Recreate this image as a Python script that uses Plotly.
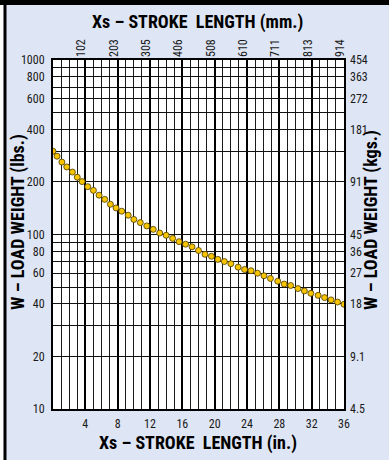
import plotly.graph_objects as go

# curve (stroke in inches, load in lbs)
stroke_in = [0, 0.5, 1.1, 1.7, 2.4, 3.0, 3.6, 4.3, 5.0, 5.7, 6.4, 7.1, 7.8, 8.5, 9.3,
             10.0, 10.8, 11.6, 12.4, 13.2, 14.0, 14.8, 15.6, 16.4, 17.2, 18.0, 18.8,
             19.6, 20.4, 21.2, 22.0, 22.9, 23.7, 24.5, 25.3, 26.1, 26.9, 27.8, 28.6,
             29.4, 30.3, 31.1, 31.9, 32.8, 33.6, 34.4, 35.2, 36.0]
load_lbs = [300, 281, 260, 244, 228, 213, 201, 188, 179, 168, 159, 149, 142, 136, 129,
            122, 117, 112, 107, 102, 99, 95, 91, 88, 85, 81, 77, 75, 72, 70, 68, 65,
            63, 62, 60, 58, 56, 54, 52, 51, 49, 47.5, 46, 44.8, 43.5, 42.2, 41, 39.8]

# axis ticks
in_ticks = [4, 8, 12, 16, 20, 24, 28, 32, 36]
mm_labels = ["102", "203", "305", "406", "508", "610", "711", "813", "914"]
lbs_ticks = [10, 20, 40, 60, 80, 100, 200, 400, 600, 800, 1000]
kg_labels = ["4.5", "9.1", "18", "27", "36", "45", "91", "181", "272", "363", "454"]
lbs_grid = [10, 20, 30, 40, 50, 60, 70, 80, 90, 100, 200, 300, 400, 500, 600, 700,
            800, 900, 1000]

TITLE_IN = "Xs – STROKE\u00a0 LENGTH (in.)"
TITLE_MM = "Xs – STROKE\u00a0 LENGTH (mm.)"
TITLE_LBS = "W – LOAD WEIGHT (lbs.)"
TITLE_KG = "W – LOAD WEIGHT (kgs.)"

FONT = "Roboto Condensed, Open Sans Condensed, sans-serif"
BG = "#dee5f4"

W, H = 389, 460
L, R, T, B = 53, 45, 60, 51
PW, PH = W - L - R, H - T - B


def px_x(px):
    return (px - L) / PW


def px_y(py):
    return (H - B - py) / PH


lbs_text = [str(v) if v in lbs_ticks else "" for v in lbs_grid]

fig = go.Figure()
fig.add_trace(go.Scatter(
    x=stroke_in, y=load_lbs, mode="markers",
    marker=dict(size=6, color="#f7c400", line=dict(color="#4a3a00", width=0.8)),
    hoverinfo="skip", showlegend=False,
))
# invisible trace to anchor the mm / kg axes
fig.add_trace(go.Scatter(
    x=stroke_in, y=load_lbs, xaxis="x2", yaxis="y2", mode="markers",
    marker=dict(opacity=0), hoverinfo="skip", showlegend=False,
))

tick_font = dict(family=FONT, size=12, color="#1a1a1a")
title_font = dict(family=FONT, size=18, color="#000000", weight="bold")

fig.update_layout(
    width=W, height=H,
    margin=dict(l=L, r=R, t=T, b=B, autoexpand=False),
    paper_bgcolor=BG, plot_bgcolor="white",
    xaxis=dict(
        range=[0, 36], tickmode="array", tickvals=in_ticks, automargin=False,
        ticks="", tickfont=tick_font, ticklabelstandoff=3,
        showgrid=True, gridcolor="#000000", gridwidth=2,
        minor=dict(dtick=1, tick0=0, showgrid=True, gridcolor="#1a1a1a", gridwidth=1.2),
        showline=True, linecolor="#000000", linewidth=2, mirror=True,
        zeroline=False,
    ),
    yaxis=dict(
        type="log", range=[1, 3], tickmode="array", tickvals=lbs_grid, ticktext=lbs_text,
        automargin=False, ticks="", tickfont=tick_font, ticklabelstandoff=4,
        showgrid=True, gridcolor="#111111", gridwidth=1.4,
        showline=True, linecolor="#000000", linewidth=2, mirror=True,
        zeroline=False,
    ),
    xaxis2=dict(
        overlaying="x", side="top", range=[0, 36], tickmode="array", automargin=False,
        tickvals=in_ticks, ticktext=mm_labels, tickangle=-90, ticklabelshift=-4,
        ticklabelstandoff=2, ticks="", tickfont=tick_font, showgrid=False, zeroline=False,
    ),
    yaxis2=dict(
        overlaying="y", side="right", type="log", range=[1, 3], tickmode="array",
        tickvals=lbs_ticks, ticktext=kg_labels, automargin=False,
        ticks="", tickfont=tick_font, ticklabelstandoff=5, showgrid=False, zeroline=False,
    ),
    shapes=[
        # black band across the top edge
        dict(type="rect", xref="paper", yref="paper", x0=px_x(0), x1=px_x(W),
             y0=px_y(5), y1=px_y(0), fillcolor="#000000", line_width=0),
        # white strip and black rule on the left edge
        dict(type="rect", xref="paper", yref="paper", x0=px_x(0), x1=px_x(3.5),
             y0=px_y(H), y1=px_y(5), fillcolor="white", line_width=0),
        dict(type="rect", xref="paper", yref="paper", x0=px_x(3.5), x1=px_x(6.5),
             y0=px_y(H), y1=px_y(0), fillcolor="#000000", line_width=0),
    ],
)

# axis titles, placed as in the reference
for text, cx, cy, angle in [
    (TITLE_MM, 197.5, 22, 0),
    (TITLE_IN, 198, 443, 0),
    (TITLE_LBS, 18, 222, -90),
    (TITLE_KG, 371, 220, -90),
]:
    fig.add_annotation(
        text=text, x=px_x(cx), y=px_y(cy), xref="paper", yref="paper",
        xanchor="center", yanchor="middle", textangle=angle, showarrow=False,
        font=title_font,
    )

# drop the default page margin so the figure sits at the window's corner
fig.write_html(
    "out.html",
    config={"displayModeBar": False},
    post_script="document.body.style.margin = '0px';",
)
